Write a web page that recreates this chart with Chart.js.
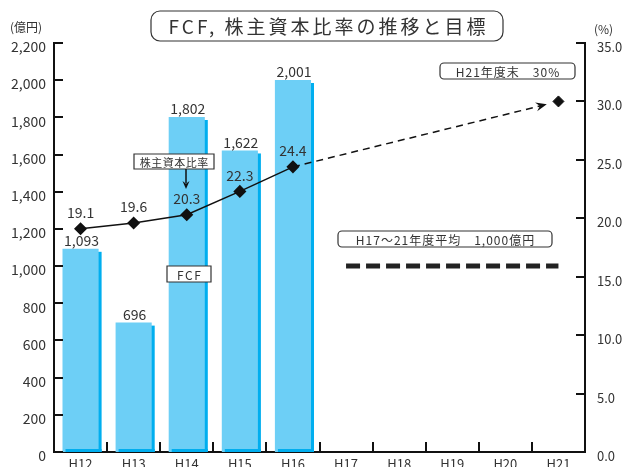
<!DOCTYPE html>
<html>
<head>
<meta charset="utf-8">
<style>
  html, body { margin: 0; padding: 0; background: #fff; }
  #wrap { width: 624px; height: 467px; }
</style>
</head>
<body>
<div id="wrap"><canvas id="myChart" width="624" height="467"></canvas></div>
<script src="https://cdn.jsdelivr.net/npm/chart.js@4/dist/chart.umd.min.js"></script>
<script>
const years = ['H12', 'H13', 'H14', 'H15', 'H16', 'H17', 'H18', 'H19', 'H20', 'H21'];
const fcfValues = [1093, 696, 1802, 1622, 2001, null, null, null, null, null];
const ratioValues = [19.1, 19.6, 20.3, 22.3, 24.4, null, null, null, null, null];
const ratioTarget = [null, null, null, null, null, null, null, null, null, 30.0];
const fcfAverage = [null, null, null, null, null, 1000, 1000, 1000, 1000, 1000];
const leftTicks = [0, 200, 400, 600, 800, 1000, 1200, 1400, 1600, 1800, 2000, 2200];
const rightTicks = [0, 5, 10, 15, 20, 25, 30, 35];

const BAR = '#6dcff6';
const BAR_SHADE = '#00aeef';
const INK = '#111';
const TEXT = '#333';
const JP = "'Noto Sans CJK JP', 'Noto Sans', sans-serif";

Chart.defaults.font.family = JP;
Chart.defaults.color = TEXT;

const fmt = v => v.toLocaleString('en-US');

// rounded (or square) text box
function textBox(ctx, x, y, w, h, r, text, size, spacing) {
  ctx.save();
  ctx.beginPath();
  ctx.roundRect(x, y, w, h, r);
  ctx.fillStyle = '#fff';
  ctx.fill();
  ctx.lineWidth = 1.2;
  ctx.strokeStyle = '#333';
  ctx.stroke();
  ctx.fillStyle = TEXT;
  ctx.font = size + 'px ' + JP;
  ctx.letterSpacing = spacing + 'px';
  ctx.textAlign = 'center';
  ctx.textBaseline = 'middle';
  ctx.fillText(text, x + w / 2 + spacing / 2, y + h / 2 + 1);
  ctx.restore();
}

function arrowHead(ctx, x, y, ang, len, wid) {
  ctx.save();
  ctx.translate(x, y);
  ctx.rotate(ang);
  ctx.beginPath();
  ctx.moveTo(0, 0);
  ctx.lineTo(-len, -wid / 2);
  ctx.lineTo(-len * 0.65, 0);
  ctx.lineTo(-len, wid / 2);
  ctx.closePath();
  ctx.fillStyle = INK;
  ctx.fill();
  ctx.restore();
}

// keep the plot box where the original has it
const noEdgePad = s => {
  s.paddingTop = 0; s.paddingBottom = 0; s.paddingLeft = 0; s.paddingRight = 0;
};

const decorations = {
  id: 'decorations',
  beforeDatasetsDraw(chart) {
    // offset shade behind each bar
    const ctx = chart.ctx;
    const meta = chart.getDatasetMeta(0);
    ctx.save();
    ctx.fillStyle = BAR_SHADE;
    meta.data.forEach((bar, i) => {
      if (fcfValues[i] == null) return;
      const w = bar.width;
      ctx.fillRect(bar.x - w / 2 + 3, bar.y + 3, w, bar.base - bar.y - 3);
    });
    ctx.restore();
  },
  afterDatasetsDraw(chart) {
    const ctx = chart.ctx;
    const area = chart.chartArea;
    const x = chart.scales.x, y = chart.scales.y, y1 = chart.scales.y1;

    // bar bottoms show the shade too
    const bars = chart.getDatasetMeta(0);
    ctx.save();
    ctx.fillStyle = BAR_SHADE;
    bars.data.forEach((bar, i) => {
      if (fcfValues[i] == null) return;
      const w = bar.width;
      ctx.fillRect(bar.x - w / 2 + 3, bar.base - 3, w, 3);
    });
    ctx.restore();

    // dashed trend to target, with arrow
    const p0 = chart.getDatasetMeta(1).data[4];
    const p1 = chart.getDatasetMeta(2).data[9];
    const dx = p1.x - p0.x, dy = p1.y - p0.y;
    const dist = Math.hypot(dx, dy);
    const t = (dist - 12) / dist;
    const tx = p0.x + dx * t, ty = p0.y + dy * t;
    ctx.save();
    ctx.strokeStyle = INK;
    ctx.lineWidth = 1.5;
    ctx.setLineDash([7, 5]);
    ctx.beginPath();
    ctx.moveTo(p0.x, p0.y);
    ctx.lineTo(tx - dx / dist * 6, ty - dy / dist * 6);
    ctx.stroke();
    ctx.restore();
    arrowHead(ctx, tx, ty, Math.atan2(dy, dx), 11, 9);

    // value labels
    ctx.save();
    ctx.fillStyle = TEXT;
    ctx.font = '14px ' + JP;
    ctx.textAlign = 'center';
    ctx.textBaseline = 'middle';
    bars.data.forEach((bar, i) => {
      if (fcfValues[i] == null) return;
      ctx.fillText(fmt(fcfValues[i]), bar.x + 1, bar.y - 8);
    });
    chart.getDatasetMeta(1).data.forEach((pt, i) => {
      if (ratioValues[i] == null) return;
      ctx.fillText(ratioValues[i].toFixed(1), pt.x, pt.y - 16);
    });
    ctx.restore();

    // inward tick marks
    ctx.save();
    ctx.strokeStyle = INK;
    ctx.lineWidth = 2;
    ctx.beginPath();
    leftTicks.forEach(v => {
      const py = Math.round(y.getPixelForValue(v));
      ctx.moveTo(area.left, py);
      ctx.lineTo(area.left + 9, py);
    });
    rightTicks.forEach(v => {
      const py = Math.round(y1.getPixelForValue(v));
      ctx.moveTo(area.right - 9, py);
      ctx.lineTo(area.right, py);
    });
    for (let i = 1; i < years.length; i++) {
      const px = Math.round((x.getPixelForValue(i - 1) + x.getPixelForValue(i)) / 2);
      ctx.moveTo(px, area.bottom);
      ctx.lineTo(px, area.bottom - 10);
    }
    ctx.stroke();
    ctx.restore();

    // callouts
    textBox(ctx, 134, 154, 80, 15, 0, '株主資本比率', 11, 0.5);
    ctx.save();
    ctx.strokeStyle = INK;
    ctx.lineWidth = 1.5;
    ctx.beginPath();
    ctx.moveTo(186, 169);
    ctx.lineTo(186, 183);
    ctx.stroke();
    ctx.restore();
    arrowHead(ctx, 186, 189, Math.PI / 2, 8, 7);

    textBox(ctx, 167, 266, 44, 16, 0, 'FCF', 12, 1.5);
    textBox(ctx, 440, 63, 135, 16, 4, 'H21年度末　30%', 12, 1);
    textBox(ctx, 338, 231, 214, 16, 4, 'H17～21年度平均　1,000億円', 12, 1);

    // title and unit captions
    textBox(ctx, 151, 11, 352, 30, 9, 'FCF, 株主資本比率の推移と目標', 19, 3);
    ctx.save();
    ctx.fillStyle = TEXT;
    ctx.font = '12px ' + JP;
    ctx.textBaseline = 'middle';
    ctx.textAlign = 'left';
    ctx.fillText('(億円)', 10, 27);
    ctx.fillText('(%)', 594, 29);
    ctx.restore();
  }
};

const ctx = document.getElementById('myChart');
new Chart(ctx, {
  data: {
    labels: years,
    datasets: [
      {
        type: 'bar',
        data: fcfValues,
        backgroundColor: BAR,
        yAxisID: 'y',
        barPercentage: 0.68,
        categoryPercentage: 1.0,
        order: 3
      },
      {
        type: 'line',
        data: ratioValues,
        yAxisID: 'y1',
        borderColor: INK,
        borderWidth: 1.5,
        pointStyle: 'rectRot',
        pointRadius: 5.5,
        pointBackgroundColor: INK,
        pointBorderColor: INK,
        order: 1
      },
      {
        type: 'line',
        data: ratioTarget,
        yAxisID: 'y1',
        showLine: false,
        pointStyle: 'rectRot',
        pointRadius: 5.5,
        pointBackgroundColor: INK,
        pointBorderColor: INK,
        order: 1
      },
      {
        type: 'line',
        data: fcfAverage,
        yAxisID: 'y',
        borderColor: '#222',
        borderWidth: 5,
        borderDash: [14, 6],
        borderCapStyle: 'butt',
        pointRadius: 0,
        order: 2
      }
    ]
  },
  options: {
    responsive: false,
    animation: false,
    layout: { padding: { top: 43, left: 0, right: 0, bottom: 0 } },
    plugins: { legend: { display: false }, tooltip: { enabled: false } },
    scales: {
      x: {
        offset: true,
        grid: { display: false, drawTicks: false },
        border: { display: true, color: INK, width: 2 },
        ticks: { font: { size: 13 }, color: TEXT, padding: 4 },
        afterFit: s => { s.height = 15; noEdgePad(s); }
      },
      y: {
        position: 'left',
        min: 0,
        max: 2200,
        grid: { display: false, drawTicks: false },
        border: { display: true, color: INK, width: 2 },
        ticks: { stepSize: 200, font: { size: 14 }, color: TEXT, padding: 8, labelOffset: 4, callback: v => fmt(v) },
        afterFit: s => { s.width = 54; noEdgePad(s); }
      },
      y1: {
        position: 'right',
        min: 0,
        max: 35,
        grid: { display: false, drawTicks: false },
        border: { display: true, color: INK, width: 2 },
        ticks: { stepSize: 5, font: { size: 13 }, color: TEXT, padding: 12, labelOffset: 4, callback: v => v.toFixed(1) },
        afterFit: s => { s.width = 39; noEdgePad(s); }
      }
    }
  },
  plugins: [decorations]
});
</script>
</body>
</html>
